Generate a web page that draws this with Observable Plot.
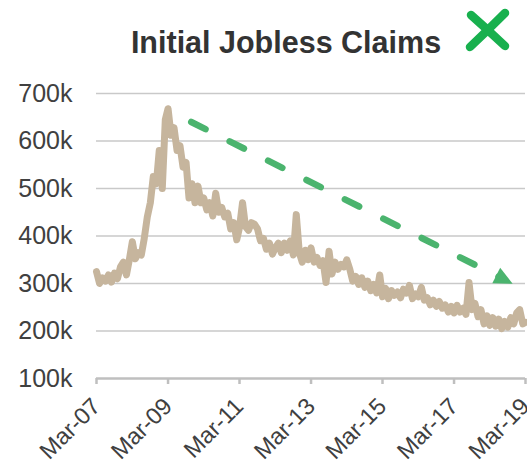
<!DOCTYPE html>
<html>
<head>
<meta charset="utf-8">
<script src="https://cdn.jsdelivr.net/npm/d3@7"></script>
<script src="https://cdn.jsdelivr.net/npm/@observablehq/plot@0.6"></script>
<style>
  html, body { margin: 0; padding: 0; background: #fff; }
  #wrap { position: relative; width: 527px; height: 463px; overflow: hidden; font-family: "Liberation Sans", Arial, sans-serif; }
  #title { position: absolute; left: 286px; top: 27px; transform: translateX(-50%); white-space: nowrap;
           font: bold 30.5px/30px "Liberation Sans", Arial, sans-serif; color: #333333; }
  #mark { position: absolute; left: 0; top: 0; }
  #chart { position: absolute; left: 0; top: 0; }
</style>
</head>
<body>
<div id="wrap">
  <div id="chart"></div>
  <div id="title">Initial Jobless Claims</div>
  <svg id="mark" width="527" height="60">
    <path d="M471,15 Q488,30 505,46" stroke="#18b04e" stroke-width="8.5" stroke-linecap="round" fill="none"/>
    <path d="M505,13 Q487,31 470,47" stroke="#18b04e" stroke-width="8.5" stroke-linecap="round" fill="none"/>
  </svg>
</div>
<script>
// Monthly series, starting March 2007 (thousands of claims)
const startMonth = "2007-03-01";
const claims = [
  325,300,312,305,318,303,322,310,335,345,
  318,352,388,352,365,360,395,440,470,525,
  510,580,500,645,668,612,628,580,590,545,
  555,480,510,470,505,470,480,455,470,442,
  490,450,460,440,448,415,428,392,418,470,
  420,412,428,425,415,390,395,372,385,362,
  375,385,365,385,370,390,360,445,365,345,
  370,350,375,345,355,338,348,302,368,320,
  345,330,340,335,350,330,305,315,298,312,
  292,305,285,298,280,318,272,290,268,285,
  275,282,270,288,280,296,268,278,272,292,
  265,270,255,265,252,262,248,255,240,252,
  238,254,240,248,235,302,245,258,230,245,
  215,232,212,228,210,225,205,220,208,228,
  215,238,245,215,218
];
const xTicks = ["2007-03-01","2009-03-01","2011-03-01","2013-03-01","2015-03-01","2017-03-01","2019-03-01"];
const yTicks = [100, 200, 300, 400, 500, 600, 700];
const gridValues = [200, 300, 400, 500, 600, 700];
const trendStart = {date: "2009-10-24", value: 640};
const trendEnd = {date: "2018-07-01", value: 311};

const start = new Date(startMonth);
const series = claims.map((v, i) => ({date: d3.utcMonth.offset(start, i), value: v}));
const tickDates = xTicks.map(d => new Date(d));
const trend = [{x1: new Date(trendStart.date), y1: trendStart.value, x2: new Date(trendEnd.date), y2: trendEnd.value}];
const head = [{date: new Date(trendEnd.date), value: trendEnd.value}];

// arrowhead symbol pointing along the trend direction (screen angle)
const headAngle = 26.7 * Math.PI / 180;
const arrowHead = {
  draw(ctx, size) {
    const L = Math.sqrt(size) * 1.4, w = L * 0.95;
    const c = Math.cos(headAngle), s = Math.sin(headAngle);
    const pt = (u, v) => [u * c - v * s, u * s + v * c];
    const p1 = pt(2 * L / 3, 0), p2 = pt(-L / 3, w / 2), p3 = pt(-L / 3, -w / 2);
    ctx.moveTo(p1[0], p1[1]); ctx.lineTo(p2[0], p2[1]); ctx.lineTo(p3[0], p3[1]); ctx.closePath();
  }
};

const fmt = d3.utcFormat("%b-%y");

const chart = Plot.plot({
  width: 527,
  height: 463,
  marginTop: 93,
  marginBottom: 85,
  marginLeft: 96,
  marginRight: 2,
  style: {fontFamily: "'Liberation Sans', Arial, sans-serif", background: "transparent", overflow: "visible"},
  x: {type: "utc", domain: [new Date("2007-03-01"), new Date("2019-03-01")]},
  y: {domain: [100, 700]},
  marks: [
    Plot.ruleY(gridValues, {stroke: "#c9c9c9", strokeWidth: 1.5}),
    Plot.axisY({ticks: yTicks, tickFormat: d => d + "k", tickSize: 0, tickPadding: 24, fontSize: 25, fill: "#404040", label: null}),
    Plot.axisX({ticks: tickDates, tickFormat: fmt, tickRotate: -45, tickSize: 6, tickPadding: 18, fontSize: 23.5, fill: "#404040", stroke: "#bfbfbf", strokeWidth: 2.5, label: null}),
    Plot.ruleY([100], {stroke: "#bfbfbf", strokeWidth: 2.5}),
    Plot.line(series, {x: "date", y: "value", stroke: "#c6b59d", strokeWidth: 7, strokeLinejoin: "round", strokeLinecap: "round"}),
    Plot.link(trend, {x1: "x1", y1: "y1", x2: "x2", y2: "y2", stroke: "#4bb46e", strokeWidth: 6.5, strokeDasharray: "16,27", strokeLinecap: "round"}),
    Plot.dot(head, {x: "date", y: "value", symbol: arrowHead, r: 7.4, fill: "#4bb46e", stroke: "none"})
  ]
});
document.getElementById("chart").appendChild(chart);
</script>
</body>
</html>
